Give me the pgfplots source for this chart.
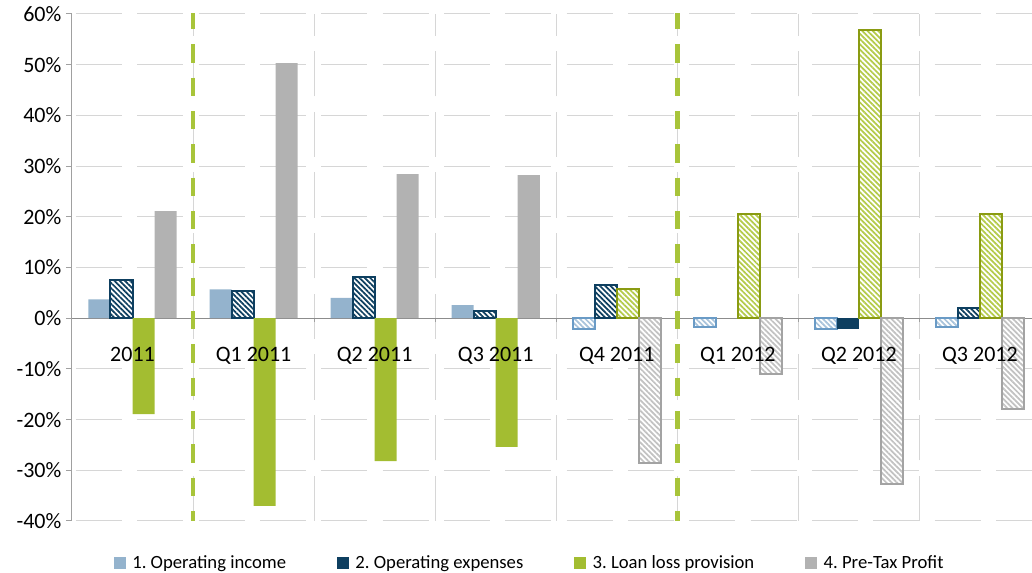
\documentclass[border=0pt]{standalone}
\usepackage{fontspec}
\setmainfont{Carlito}
\usepackage{pgfplots}
\pgfplotsset{compat=1.18}
\usetikzlibrary{patterns.meta}
\frenchspacing
\definecolor{cA}{HTML}{94B3CD}
\definecolor{cAb}{HTML}{6A9BC6}
\definecolor{cAh}{HTML}{A8C3DB}
\definecolor{cB}{HTML}{0E3F60}
\definecolor{cC}{HTML}{A3BD31}
\definecolor{cCb}{HTML}{8A9B12}
\definecolor{cCh}{HTML}{B4CB4A}
\definecolor{cD}{HTML}{B2B2B2}
\definecolor{cDb}{HTML}{A3A3A3}
\definecolor{cDh}{HTML}{C2C2C2}
\definecolor{gridc}{HTML}{D6D6D6}
\definecolor{zeroc}{HTML}{8C8C8C}
\definecolor{axc}{HTML}{A0A0A0}
\definecolor{sepc}{HTML}{A8C43A}
\pgfplotsset{
  solidbar/.style={ybar, bar width=0.182, draw=none, fill=#1},
  hatchbar/.style 2 args={ybar, bar width=0.182, draw=#1, line width=1.5pt, fill=white,
     postaction={pattern={Lines[angle=-45,distance=2.8pt,line width=1.3pt]}, pattern color=#2}},
  commonaxis/.style={scale only axis, width=720pt, height=380.25pt,
     xmin=-0.5, xmax=7.43, ymin=-40, ymax=60},
}
\begin{document}
\begin{tikzpicture}
\begin{axis}[
  commonaxis,
  axis x line*=middle, axis y line*=left,
  x axis line style={-, draw=zeroc, line width=0.9pt},
  y axis line style={-, draw=axc, line width=0.75pt},
  xtick={0,...,7},
  xticklabels={},
  major x tick style={draw=none},
  minor xtick={0.5,1.5,...,7.5},
  minor x tick style={draw=axc, line width=0.75pt},
  minor tick length=3pt,
  xminorgrids=true,
  minor x grid style={draw=gridc, line width=0.75pt, dash pattern=on 34pt off 11.5pt},
  ytick={-40,-30,...,60},
  yticklabels={-40\%,-30\%,-20\%,-10\%,0\%,10\%,20\%,30\%,40\%,50\%,60\%},
  ymajorgrids=true,
  major y grid style={draw=gridc, line width=0.75pt, dash pattern=on 34.5pt off 11.5pt, dash phase=43pt},
  major y tick style={draw=axc, line width=0.75pt},
  tick align=outside, major tick length=4.5pt,
  tick label style={font=\fontsize{16.5}{19}\selectfont, text=black},
  legend image code/.code={\fill[#1] (0pt,-4.5pt) rectangle (9pt,4.5pt);},
  legend style={draw=none, fill=none, at={(0.477,-0.083)}, anchor=center,
     font=\fontsize{14}{16}\selectfont, legend columns=4,
     /tikz/every odd column/.append style={column sep=3pt},
     /tikz/every even column/.append style={column sep=36pt}},
  legend cell align=left,
]
\addlegendimage{fill=cA, draw=none}
\addlegendimage{fill=cB, draw=none}
\addlegendimage{fill=cC, draw=none}
\addlegendimage{fill=cD, draw=none}
% separators
\addplot[forget plot, draw=sepc, line width=3.5pt, dash pattern=on 13.75pt off 11.25pt] coordinates {(0.5,60.6) (0.5,-40)};
\addplot[forget plot, draw=sepc, line width=3.5pt, dash pattern=on 13.75pt off 11.25pt] coordinates {(4.5,60.6) (4.5,-40)};
% series 1: operating income
\addplot[forget plot, solidbar=cA, bar shift=-0.273] coordinates {(0,3.7) (1,5.7) (2,4.0) (3,2.6)};
\addplot[forget plot, hatchbar={cAb}{cAh}, bar shift=-0.273] coordinates {(4,-2.2) (5,-1.8) (6,-2.2) (7,-1.8)};
% series 2: operating expenses
\addplot[forget plot, hatchbar={cB}{cB}, bar shift=-0.091] coordinates {(0,7.5) (1,5.3) (2,8.1) (3,1.5) (4,6.6) (7,2.0)};
\addplot[forget plot, solidbar=cB, bar shift=-0.091] coordinates {(6,-2.1)};
% series 3: loan loss provision
\addplot[forget plot, solidbar=cC, bar shift=0.091] coordinates {(0,-18.9) (1,-37.0) (2,-28.2) (3,-25.4)};
\addplot[forget plot, hatchbar={cCb}{cCh}, bar shift=0.091] coordinates {(4,5.7) (5,20.5) (6,56.8) (7,20.5)};
% series 4: pre-tax profit
\addplot[forget plot, solidbar=cD, bar shift=0.273] coordinates {(0,21.1) (1,50.3) (2,28.4) (3,28.2)};
\addplot[forget plot, hatchbar={cDb}{cDh}, bar shift=0.273] coordinates {(4,-28.5) (5,-11.0) (6,-32.8) (7,-17.9)};
\legend{1. Operating income,2. Operating expenses,3. Loan loss provision,4. Pre-Tax Profit}
\end{axis}
% overlay axis carrying the category labels above the bars
\begin{axis}[
  commonaxis,
  axis x line*=middle, axis y line=none,
  x axis line style={draw=none},
  xtick={0,...,7},
  xticklabels={2011,Q1 2011,Q2 2011,Q3 2011,Q4 2011,Q1 2012,Q2 2012,Q3 2012},
  major tick length=0pt, ytick=\empty,
  tick label style={font=\fontsize{16.5}{19}\selectfont, text=black},
  xticklabel style={yshift=-18.5pt},
]
\addplot[draw=none, forget plot] coordinates {(0,0)};
\end{axis}
\pgfresetboundingbox
\path (-54pt,-39pt) rectangle (720pt,390.75pt);
\end{tikzpicture}
\end{document}
